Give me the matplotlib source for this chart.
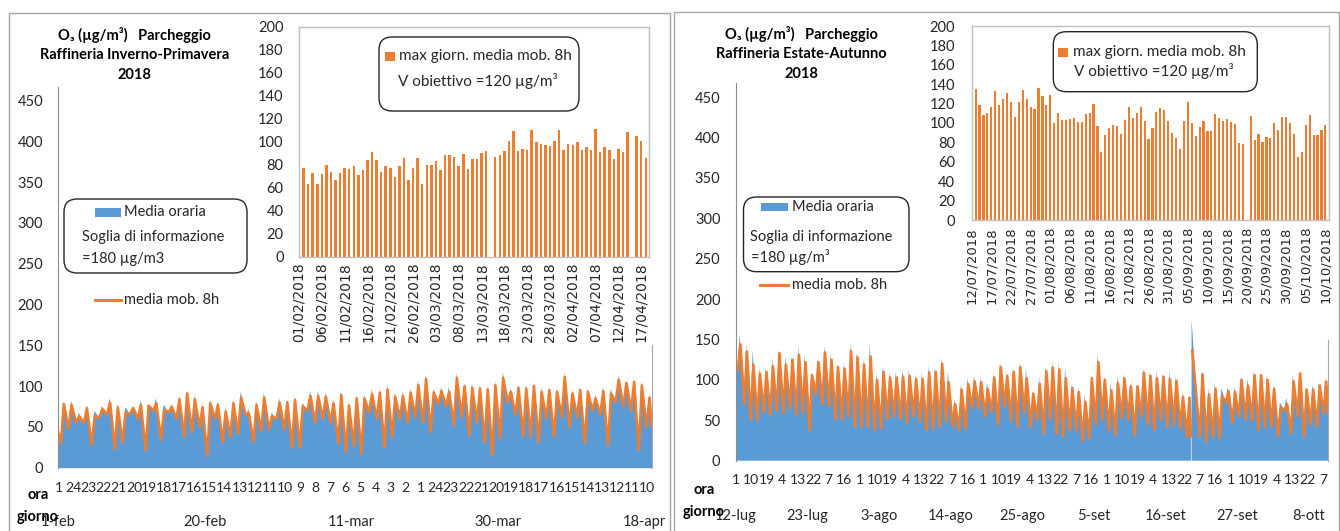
import numpy as np
import pandas as pd
import matplotlib
matplotlib.use("Agg")
import matplotlib.pyplot as plt
from matplotlib.patches import FancyBboxPatch, Rectangle
from matplotlib.lines import Line2D

nan = np.nan

# ---------------------------------------------------------------- data
left_start_date = "2018-02-01"
right_start_date = "2018-07-12"

# daily maximum of the 8h moving average (inset bars), µg/m3
left_max8h = [78, 77, 63, 73, 63, 72, 80, 74, 67, 73,
              77, 76, 79, 71, 75, 84, 91, 84, 74, 79,
              77, 69, 79, 86, 67, 77, 86, 63, 80, 80,
              83, 75, 88, 88, 87, 79, 89, 76, 85, 85,
              90, 92, nan, 87, 88, 92, 101, 109, 92, 94,
              93, 110, 100, 98, 97, 96, 101, 110, 93, 98,
              97, 100, 93, 95, 93, 111, 91, 95, 93, 85,
              94, 91, 108, nan, 105, 101, 86]
right_max8h = [144, 135, 119, 108, 110, 117, 133, 119, 125, 131,
               122, 106, 122, 134, 125, 116, 114, 136, 128, 119,
               129, 100, 110, 103, 103, 104, 105, 101, 101, 109,
               110, 120, 97, 70, 88, 95, 98, 97, 89, 103,
               116, 105, 110, 116, 102, 83, 95, 111, 115, 113,
               102, 90, 85, 73, 102, 122, 100, 87, 96, 102,
               92, 92, 109, 105, 102, 104, 101, 99, 79, 78,
               nan, 107, 82, 89, 80, 86, 85, 100, 93, 106,
               106, 100, 89, 65, 70, 98, 108, 88, 88, 93,
               98]

# daily peak of the hourly values (read from the blue area)
left_hourly_peak = [82, 83, 68, 77, 70, 76, 86, 79, 75, 76,
                    84, 79, 86, 78, 76, 88, 94, 89, 80, 84,
                    82, 75, 84, 94, 73, 82, 93, 68, 86, 85,
                    89, 80, 95, 95, 93, 85, 96, 82, 90, 90,
                    97, 97, 103, 93, 94, 97, 108, 115, 97, 99,
                    100, 117, 104, 104, 102, 101, 108, 118, 98, 103,
                    103, 105, 99, 100, 98, 118, 96, 100, 98, 90,
                    100, 97, 113, 104, 110, 107, 90]
right_hourly_peak = [156, 145, 137, 115, 114, 127, 138, 129, 129, 142,
                     131, 109, 127, 142, 132, 118, 122, 146, 135, 126,
                     145, 109, 117, 110, 110, 114, 114, 108, 110, 118,
                     114, 128, 111, 76, 95, 102, 105, 103, 97, 109,
                     122, 110, 113, 122, 114, 86, 104, 117, 125, 122,
                     115, 95, 92, 82, 107, 132, 106, 97, 105, 108,
                     97, 95, 115, 111, 111, 108, 111, 105, 85, 82,
                     175, 112, 90, 97, 90, 92, 92, 104, 102, 111,
                     109, 107, 94, 72, 78, 107, 111, 92, 95, 97,
                     103]

# daily minimum (night/morning trough)
left_daily_low = [30, 48, 55, 55, 28, 62, 65, 23, 31, 66,
                  60, 21, 70, 34, 68, 60, 38, 44, 50, 15,
                  60, 31, 38, 42, 64, 32, 45, 47, 60, 47,
                  25, 25, 70, 55, 60, 55, 30, 19, 27, 17,
                  68, 60, 25, 38, 60, 55, 62, 55, 44, 78,
                  75, 52, 62, 40, 55, 31, 15, 36, 80, 65,
                  38, 38, 31, 60, 38, 62, 50, 62, 30, 70,
                  65, 28, 80, 75, 70, 22, 50]
right_daily_low = [112, 70, 51, 51, 60, 57, 62, 59, 65, 57,
                   60, 38, 82, 70, 68, 51, 51, 55, 42, 42,
                   42, 38, 40, 51, 55, 52, 47, 55, 49, 38,
                   40, 42, 49, 42, 38, 40, 65, 65, 55, 60,
                   45, 67, 49, 42, 60, 42, 51, 34, 51, 34,
                   30, 38, 38, 25, 28, 45, 51, 38, 32, 53,
                   51, 32, 55, 45, 38, 50, 42, 45, 40, 30,
                   nan, 30, 24, 30, 28, 72, 47, 55, 51, 50,
                   38, 42, 42, 30, 63, 34, 55, 30, 45, 42,
                   59]

# first / last hour of each period: [hourly, 8h moving average]
left_first_hour = [40, 43]
left_last_hour = [51, 51]
right_first_hour = [128, 115]
right_last_hour = [59, 59]

# data break (missing hours) in the summer series
right_gap_day = 70
right_gap_level = 30
# 8h moving average peak on days without a daily value
left_line_fill = {42: 96, 73: 104}
right_line_fill = {70: 136}

left_day_labels = ["1-feb", "20-feb", "11-mar", "30-mar", "18-apr"]
right_day_labels = ["12-lug", "23-lug", "3-ago", "14-ago", "25-ago",
                    "5-set", "16-set", "27-set", "8-ott"]

assert len(left_max8h) == len(left_hourly_peak) == len(left_daily_low) == 77
assert len(right_max8h) == len(right_hourly_peak) == len(right_daily_low) == 91

# ---------------------------------------------------------------- style
BLUE = "#5B9BD5"
ORANGE = "#ED7D31"
TXT = "#262626"
FRAME = "#A6A6A6"
BOXC = "#BFBFBF"
W, H = 1340, 531
plt.rcParams["font.family"] = ["Lato", "DejaVu Sans"]

fig = plt.figure(figsize=(W / 100, H / 100), dpi=100)
fig.patch.set_facecolor("white")
IN = fig.dpi_scale_trans


def P(x, y):
    return (x / 100.0, (H - y) / 100.0)


def axrect(x0, y0, x1, y1):
    return [x0 / W, 1 - y1 / H, (x1 - x0) / W, (y1 - y0) / H]


def build(low, peak, first, last, t_low, t_peak, gap_day=None, gap_level=None, after=0.04):
    xs, ys = [0.0], [first]
    for d, (lo, pk) in enumerate(zip(low, peak)):
        if gap_day is not None and d == gap_day:
            xs += [d - 0.06, d - 0.02, d + after]
            ys += [gap_level, nan, pk]
        else:
            xs += [d + t_low, d + t_peak]
            ys += [lo, pk]
    xs.append(float(len(low)))
    ys.append(last)
    return np.array(xs), np.array(ys, dtype=float)


def text(x, y, s, **kw):
    kw.setdefault("color", TXT)
    kw.setdefault("va", "center")
    fig.text(*P(x, y), s, transform=IN, **kw)


def draw_panel(max8h, peak, low, first, last, gap_day, gap_level, fill,
               day_labels, day_step, hour_step, start, main_box, inset_box,
               inset_xmax, date_fs, ypad_main, ypad_inset, hour_pad, day_pad, date_pad):
    n = len(max8h)
    # ---- main hourly chart
    ax = fig.add_axes(axrect(*main_box))
    ax.patch.set_alpha(0)
    xb, yb = build(low, peak, first[0], last[0], 0.25, 0.6, gap_day, gap_level, 0.04)
    line_peak = [fill.get(i, v) if np.isnan(v) else v for i, v in enumerate(max8h)]
    xo, yo = build(low, line_peak, first[1], last[1], 0.33, 0.72, gap_day, gap_level, 0.15)
    ax.fill_between(xb, 0, yb, color=BLUE, lw=0)
    ax.plot(xo, yo, color=ORANGE, lw=1.9, solid_joinstyle="round")
    ax.set_xlim(0, n)
    ax.set_ylim(0, 467)
    ax.set_yticks(range(0, 451, 50))
    ax.tick_params(axis="y", length=0, labelsize=10.5, pad=ypad_main, labelcolor=TXT)
    hk = np.arange(0, n * 24, hour_step)
    ax.set_xticks((hk + 0.5) / 24, [str(k % 24 + 1) for k in hk])
    ax.tick_params(axis="x", length=0, labelsize=10, pad=hour_pad, labelcolor=TXT)
    for s in ("top", "bottom"):
        ax.spines[s].set_visible(False)
    ax.spines["left"].set_color("#8C8C8C")
    ax.spines["right"].set_color(FRAME)
    ax.spines["right"].set_bounds(0, 150)
    sec = ax.secondary_xaxis("bottom")
    dpos = np.arange(0, n, day_step)
    sec.set_xticks(dpos + 0.5 / 24, day_labels)
    sec.tick_params(length=0, labelsize=10.5, pad=day_pad, labelcolor=TXT)
    for s in sec.spines.values():
        s.set_visible(False)

    # ---- inset: daily max of 8h moving average
    ai = fig.add_axes(axrect(*inset_box))
    ai.patch.set_alpha(0)
    ai.bar(np.arange(n), max8h, width=0.55, color=ORANGE)
    ai.set_xlim(0, inset_xmax)
    ai.set_ylim(0, 200)
    ai.set_yticks(range(0, 201, 20))
    dates = pd.date_range(start, periods=n, freq="D")
    tk = np.arange(0, n, 5)
    ai.set_xticks(tk, [dates[i].strftime("%d/%m/%Y") for i in tk])
    for lab in ai.get_xticklabels():
        lab.set_rotation(90)
        lab.set_fontfamily("DejaVu Sans")
        lab.set_fontsize(date_fs)
    ai.tick_params(axis="x", length=0, pad=date_pad, labelcolor=TXT)
    ai.tick_params(axis="y", length=0, labelsize=10.5, pad=ypad_inset, labelcolor=TXT)
    for s in ai.spines.values():
        s.set_color(BOXC)
        s.set_linewidth(1)
    return ax, ai


draw_panel(left_max8h, left_hourly_peak, left_daily_low, left_first_hour, left_last_hour,
           None, None, left_line_fill, left_day_labels, 19, 47, left_start_date,
           (58.3, 86.6, 651.7, 467.7), (299, 26.7, 649, 256.7), 76.7, 10,
           ypad_main=11, ypad_inset=11, hour_pad=10, day_pad=34, date_pad=4)
draw_panel(right_max8h, right_hourly_peak, right_daily_low, right_first_hour, right_last_hour,
           right_gap_day, right_gap_level, right_line_fill, right_day_labels, 11, 57,
           right_start_date, (735.7, 83.4, 1328, 460.7), (971.7, 26, 1329.3, 220), 91, 9.5,
           ypad_main=11, ypad_inset=12, hour_pad=9.5, day_pad=34.5, date_pad=5)

# ---------------------------------------------------------------- panel frames
for (x0, y0, x1) in [(9, 13.3, 669.5), (673.5, 11.7, 1338.5)]:
    fig.patches.append(Rectangle(P(x0, 545), (x1 - x0) / 100, (545 - y0) / 100,
                                 transform=IN, fill=False, edgecolor=FRAME, lw=1))

# ---------------------------------------------------------------- titles
for cx, lines, ys in [(134.6, ["O\u2083 (\u00b5g/m\u00b3)   Parcheggio", "Raffineria Inverno-Primavera", "2018"], (35, 55, 75)),
                      (801.6, ["O\u2083 (\u00b5g/m\u00b3)   Parcheggio", "Raffineria Estate-Autunno", "2018"], (34.3, 54.3, 74))]:
    for s, y in zip(lines, ys):
        text(cx, y, s, ha="center", fontsize=10.5, fontweight="bold", color="black")

# axis captions
text(38, 495, "ora", ha="center", fontsize=10.5, fontweight="bold", color="black")
text(38, 516.7, "giorno", ha="center", fontsize=10.5, fontweight="bold", color="black")
text(704, 490, "ora", ha="center", fontsize=10.5, fontweight="bold", color="black")
text(704, 512, "giorno", ha="center", fontsize=10.5, fontweight="bold", color="black")


# ---------------------------------------------------------------- legends
def rbox(x0, y0, x1, y1, r=0.13):
    fig.patches.append(FancyBboxPatch(P(x0, y1), (x1 - x0) / 100, (y1 - y0) / 100,
                                      boxstyle=f"round,pad=0,rounding_size={r}",
                                      transform=IN, fill=True, facecolor="white",
                                      edgecolor="#262626", lw=1.0))


def swatch(x0, y0, x1, y1, color):
    fig.patches.append(Rectangle(P(x0, y1), (x1 - x0) / 100, (y1 - y0) / 100,
                                 transform=IN, color=color, lw=0))


def lswatch(x0, x1, y):
    fig.lines.append(Line2D([x0 / 100, x1 / 100], [(H - y) / 100] * 2, transform=IN,
                            color=ORANGE, lw=2.2))


# left main legend
rbox(64, 199, 247, 273)
swatch(95, 208, 121, 217, BLUE)
text(124, 212, "Media oraria", fontsize=10.5)
text(82.5, 237, "Soglia di informazione", fontsize=10.5)
text(82.5, 259, "=180 \u00b5g/m3", fontsize=10.5)
lswatch(95, 121, 300)
text(124, 300, "media mob. 8h", fontsize=10.5)

# right main legend
rbox(743.5, 197, 909, 271.7)
swatch(760.6, 203, 787.5, 211, BLUE)
text(791.8, 207, "Media oraria", fontsize=10.5)
text(750, 237.3, "Soglia di informazione", fontsize=10.5)
text(751, 257, "=180 \u00b5g/m\u00b3", fontsize=10.5)
lswatch(759.7, 787.5, 285)
text(791.8, 285, "media mob. 8h", fontsize=10.5)

# left inset legend
rbox(379, 37, 579, 111)
swatch(385.3, 51.7, 394.7, 61.3, ORANGE)
text(399.3, 56, "max giorn. media mob. 8h", fontsize=11)
text(398.3, 81, "V obiettivo =120 \u00b5g/m\u00b3", fontsize=11)

# right inset legend
rbox(1053.3, 31.7, 1257.3, 91.7)
swatch(1058.3, 47.7, 1067.7, 56.7, ORANGE)
text(1072.7, 52.3, "max giorn. media mob. 8h", fontsize=11)
text(1074, 70.7, "V obiettivo =120 \u00b5g/m\u00b3", fontsize=11)

fig.savefig("out.png", dpi=100, facecolor="white")
